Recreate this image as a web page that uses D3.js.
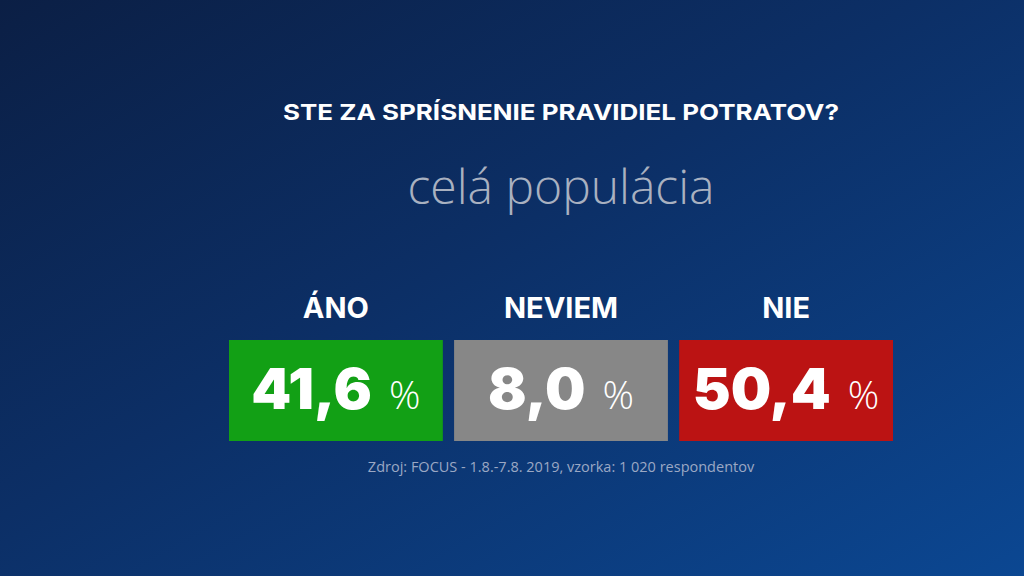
<!DOCTYPE html>
<html>
<head>
<meta charset="utf-8">
<script src="https://cdn.jsdelivr.net/npm/d3@7"></script>
<style>
  html, body { margin: 0; padding: 0; background: #0b2148; }
  svg { display: block; }
</style>
</head>
<body>
<svg id="chart" width="1024" height="576"></svg>
<script>
var categories = ["ÁNO", "NEVIEM", "NIE"];
var values = [41.6, 8.0, 50.4];
var colors = ["#12a015", "#878787", "#bb1313"];
var title = "STE ZA SPRÍSNENIE PRAVIDIEL POTRATOV?";
var subtitle = "celá populácia";
var source = "Zdroj: FOCUS - 1.8.-7.8. 2019, vzorka: 1 020 respondentov";

var width = 1024, height = 576;
var svg = d3.select("#chart");

var defs = svg.append("defs");
var grad = defs.append("linearGradient")
    .attr("id", "bg")
    .attr("x1", "0%").attr("y1", "0%")
    .attr("x2", "100%").attr("y2", "100%");
grad.append("stop").attr("offset", "0%").attr("stop-color", "#0b1f45");
grad.append("stop").attr("offset", "45%").attr("stop-color", "#0c2f66");
grad.append("stop").attr("offset", "100%").attr("stop-color", "#0b4792");

svg.append("rect")
    .attr("width", width)
    .attr("height", height)
    .attr("fill", "url(#bg)");

var format = function (v) {
    return d3.format(".1f")(v).replace(".", ",");
};

var x = d3.scaleBand()
    .domain(categories)
    .range([229, 893])
    .paddingInner(0.05)
    .paddingOuter(0);

var cx = (x.range()[0] + x.range()[1]) / 2;

svg.append("text")
    .attr("x", cx)
    .attr("y", 120)
    .attr("text-anchor", "middle")
    .attr("fill", "#ffffff")
    .attr("textLength", 556)
    .attr("lengthAdjust", "spacingAndGlyphs")
    .style("font-family", "Inter, 'Open Sans', sans-serif")
    .style("font-weight", 700)
    .style("font-size", "22px")
    .text(title);

svg.append("text")
    .attr("x", cx)
    .attr("y", 204)
    .attr("text-anchor", "middle")
    .attr("fill", "#a9b1c0")
    .style("font-family", "'Open Sans', sans-serif")
    .style("font-weight", 300)
    .style("font-size", "48px")
    .text(subtitle);

var data = categories.map(function (c, i) {
    return {name: c, value: values[i], color: colors[i]};
});

var cell = svg.selectAll("g.cell")
    .data(data)
    .enter().append("g")
    .attr("class", "cell")
    .attr("transform", function (d) {
        return "translate(" + x(d.name) + ",0)";
    });

cell.append("text")
    .attr("x", x.bandwidth() / 2)
    .attr("y", 318)
    .attr("text-anchor", "middle")
    .attr("fill", "#ffffff")
    .style("font-family", "Inter, 'Open Sans', sans-serif")
    .style("font-weight", 700)
    .style("font-size", "29px")
    .text(function (d) { return d.name; });

cell.append("rect")
    .attr("y", 340)
    .attr("width", x.bandwidth())
    .attr("height", 101)
    .attr("fill", function (d) { return d.color; });

var num = cell.append("text")
    .attr("x", x.bandwidth() / 2)
    .attr("y", 409)
    .attr("text-anchor", "middle")
    .attr("fill", "#ffffff");

num.append("tspan")
    .style("font-family", "Inter, 'Open Sans', sans-serif")
    .style("font-weight", 900)
    .style("font-size", "57px")
    .text(function (d) { return format(d.value); });

num.append("tspan")
    .attr("dx", 17)
    .style("font-family", "'Open Sans', sans-serif")
    .style("font-weight", 300)
    .style("font-size", "39px")
    .text("%");

svg.append("text")
    .attr("x", cx)
    .attr("y", 472)
    .attr("text-anchor", "middle")
    .attr("fill", "#9ba8c4")
    .style("font-family", "'Open Sans', sans-serif")
    .style("font-size", "14.5px")
    .text(source);
</script>
</body>
</html>
